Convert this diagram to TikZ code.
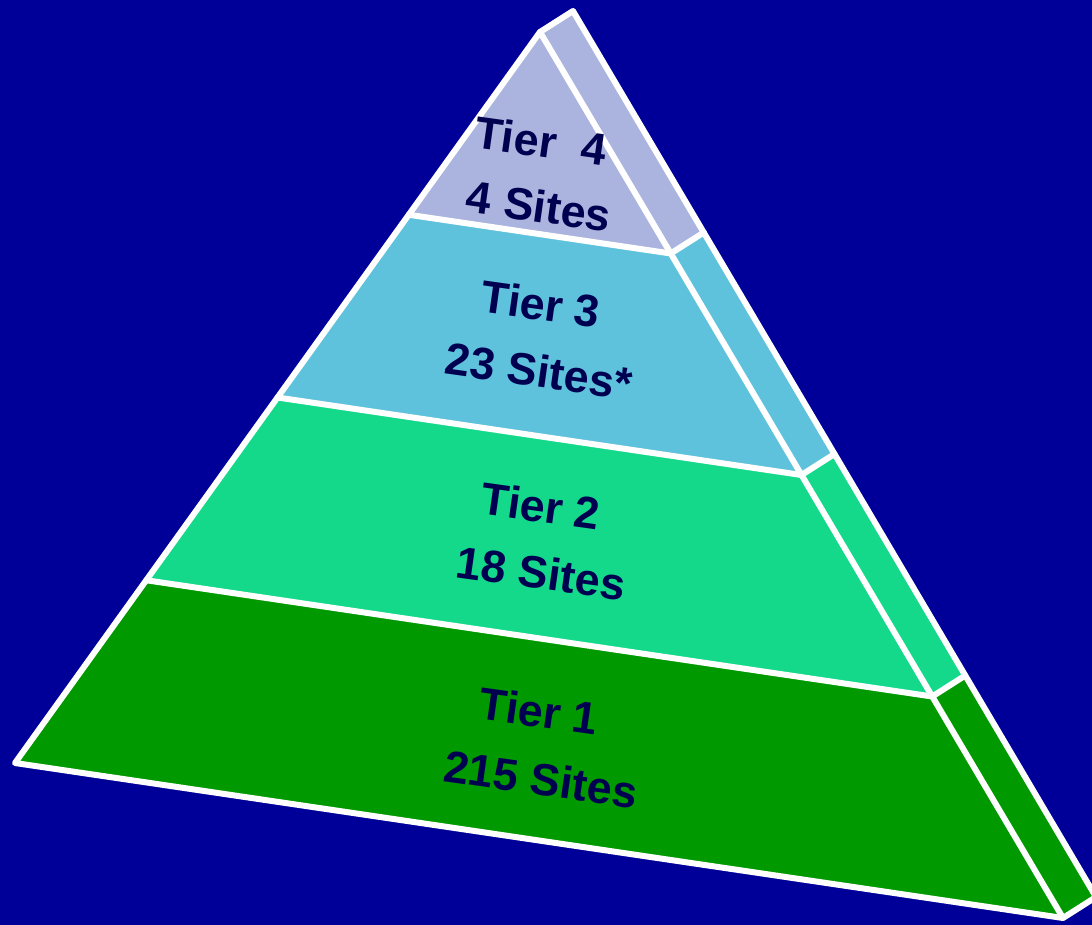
\documentclass[tikz,border=0pt]{standalone}
\usepackage{fontspec}
\setmainfont{Liberation Sans}
\usetikzlibrary{calc}
\definecolor{bgblue}{HTML}{000099}
\definecolor{tierfour}{HTML}{AAB4DE}
\definecolor{tierthree}{HTML}{5FC2DC}
\definecolor{tiertwo}{HTML}{14D98A}
\definecolor{tierone}{HTML}{009900}
\definecolor{labelblue}{HTML}{000050}
\tikzset{
    edge/.style={white,line width=6pt,line join=round,line cap=round},
    tiertext/.style={text=labelblue,font=\fontsize{45}{50}\selectfont\bfseries,rotate=-8,inner sep=0pt}
}
\begin{document}
\begin{tikzpicture}[x=1pt,y=-1pt]
\fill[bgblue](0,0)rectangle(1092,925);
\useasboundingbox(0,0)rectangle(1092,925);
% front face corners
\coordinate (apex) at (540,32);
\coordinate (bl) at (15,763);
\coordinate (br) at (1063,918);
\coordinate (off) at (33,-21);
\foreach \t/\n in {0.25/1,0.5/2,0.75/3}
	{\coordinate (l\n) at ($(apex)!\t!(bl)$);
	 \coordinate (r\n) at ($(apex)!\t!(br)$);
	}
% front tiers
\fill[tierfour](apex)--(l1)--(r1)--cycle;
\fill[tierthree](l1)--(l2)--(r2)--(r1)--cycle;
\fill[tiertwo](l2)--(l3)--(r3)--(r2)--cycle;
\fill[tierone](l3)--(bl)--(br)--(r3)--cycle;
% side tiers
\fill[tierfour](apex)--($(apex)+(off)$)--($(r1)+(off)$)--(r1)--cycle;
\fill[tierthree](r1)--($(r1)+(off)$)--($(r2)+(off)$)--(r2)--cycle;
\fill[tiertwo](r2)--($(r2)+(off)$)--($(r3)+(off)$)--(r3)--cycle;
\fill[tierone](r3)--($(r3)+(off)$)--($(br)+(off)$)--(br)--cycle;
% white edges
\draw[edge](apex)--(bl)--(br)--cycle;
\draw[edge](apex)--($(apex)+(off)$)--($(br)+(off)$)--(br);
\foreach \n in {1,2,3}
	\draw[edge](l\n)--(r\n)--($(r\n)+(off)$);

\foreach \n/\x/\y/\txt in {a/541/141/{Tier\ \ 4},b/539/206/{4 Sites},
	c/541/304/{Tier 3},d/539/371/{23 Sites*},
	e/541/506/{Tier 2},f/541/573/{18 Sites},
	g/539/711/{Tier 1},h/541/779/{215 Sites}}
	\node[tiertext](t\n) at (\x,\y){\txt};
\end{tikzpicture}
\end{document}
